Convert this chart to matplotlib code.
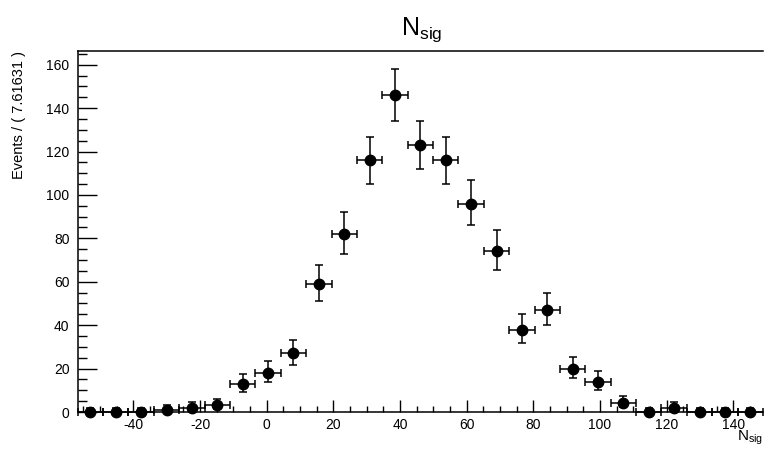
import math
import numpy as np
import matplotlib
matplotlib.use("Agg")
import matplotlib.pyplot as plt
from matplotlib.ticker import MultipleLocator

plt.rcParams['font.family'] = ['Liberation Sans', 'DejaVu Sans']
plt.rcParams['axes.unicode_minus'] = False

# binning of the RooPlot
x_low = -56.7
bin_width = 7.61631
n_bins = 27

# event counts per bin
counts = [0, 0, 0, 1, 2, 3, 13, 18, 27, 59, 82, 116, 146, 123,
          116, 96, 74, 38, 47, 20, 14, 4, 0, 2, 0, 0, 0]


def pois_cdf(k, mu):
    s = 0.0
    term = math.exp(-mu)
    for i in range(k + 1):
        if i > 0:
            term *= mu / i
        s += term
    return s


def solve(f, target, lo, hi):
    # f decreasing in mu
    for _ in range(100):
        mid = 0.5 * (lo + hi)
        if f(mid) > target:
            lo = mid
        else:
            hi = mid
    return 0.5 * (lo + hi)


def poisson_interval(n):
    # RooFit style 68% interval
    if n > 100:
        return n - math.sqrt(n), n + math.sqrt(n)
    alpha = 0.158655
    up = solve(lambda m: pois_cdf(n, m), alpha, 0.0, n + 50.0)
    if n == 0:
        return 0.0, up
    lo = solve(lambda m: pois_cdf(n - 1, m), 1 - alpha, 0.0, n + 50.0)
    return lo, up


centers = x_low + bin_width * (np.arange(n_bins) + 0.5)
y = np.array(counts, dtype=float)
intervals = [poisson_interval(n) for n in counts]
yerr_lo = y - np.array([a for a, b in intervals])
yerr_hi = np.array([b for a, b in intervals]) - y

fig = plt.figure(figsize=(7.65, 4.49), dpi=100)
ax = fig.add_axes([0.1016, 0.0824, 0.8958, 0.804])

ax.errorbar(centers, y, xerr=bin_width / 2, yerr=[yerr_lo, yerr_hi],
            fmt='o', color='black', ms=7.5, elinewidth=1.1, capsize=2.8,
            capthick=1.1, clip_on=False, zorder=3)

ax.set_xlim(x_low, x_low + n_bins * bin_width)
ax.set_ylim(0, 166.3)

ax.xaxis.set_major_locator(MultipleLocator(20))
ax.xaxis.set_minor_locator(MultipleLocator(5))
ax.yaxis.set_major_locator(MultipleLocator(20))
ax.yaxis.set_minor_locator(MultipleLocator(5))

ax.tick_params(axis='x', which='major', direction='in', length=9, width=1, labelsize=10, pad=4)
ax.tick_params(axis='x', which='minor', direction='in', length=4.5, width=1)
ax.tick_params(axis='y', which='major', direction='in', length=13.5, width=1, labelsize=10, pad=6)
ax.tick_params(axis='y', which='minor', direction='in', length=6.8, width=1)
ax.tick_params(top=False, right=False, which='both')

for side in ['left', 'bottom', 'top']:
    ax.spines[side].set_linewidth(1.1)
ax.spines['right'].set_visible(False)

ax.set_ylabel('Events / ( 7.61631 )', fontsize=10.5, loc='top')
ax.yaxis.set_label_coords(-0.075, 1.0)
ax.set_xlabel('$\\mathregular{N_{sig}}$', fontsize=11, loc='right')
ax.xaxis.set_label_coords(1.0, -0.045)

fig.text(0.551, 0.935, '$\\mathregular{N_{sig}}$', fontsize=18, ha='center', va='center')

fig.savefig('out.png', dpi=100)
